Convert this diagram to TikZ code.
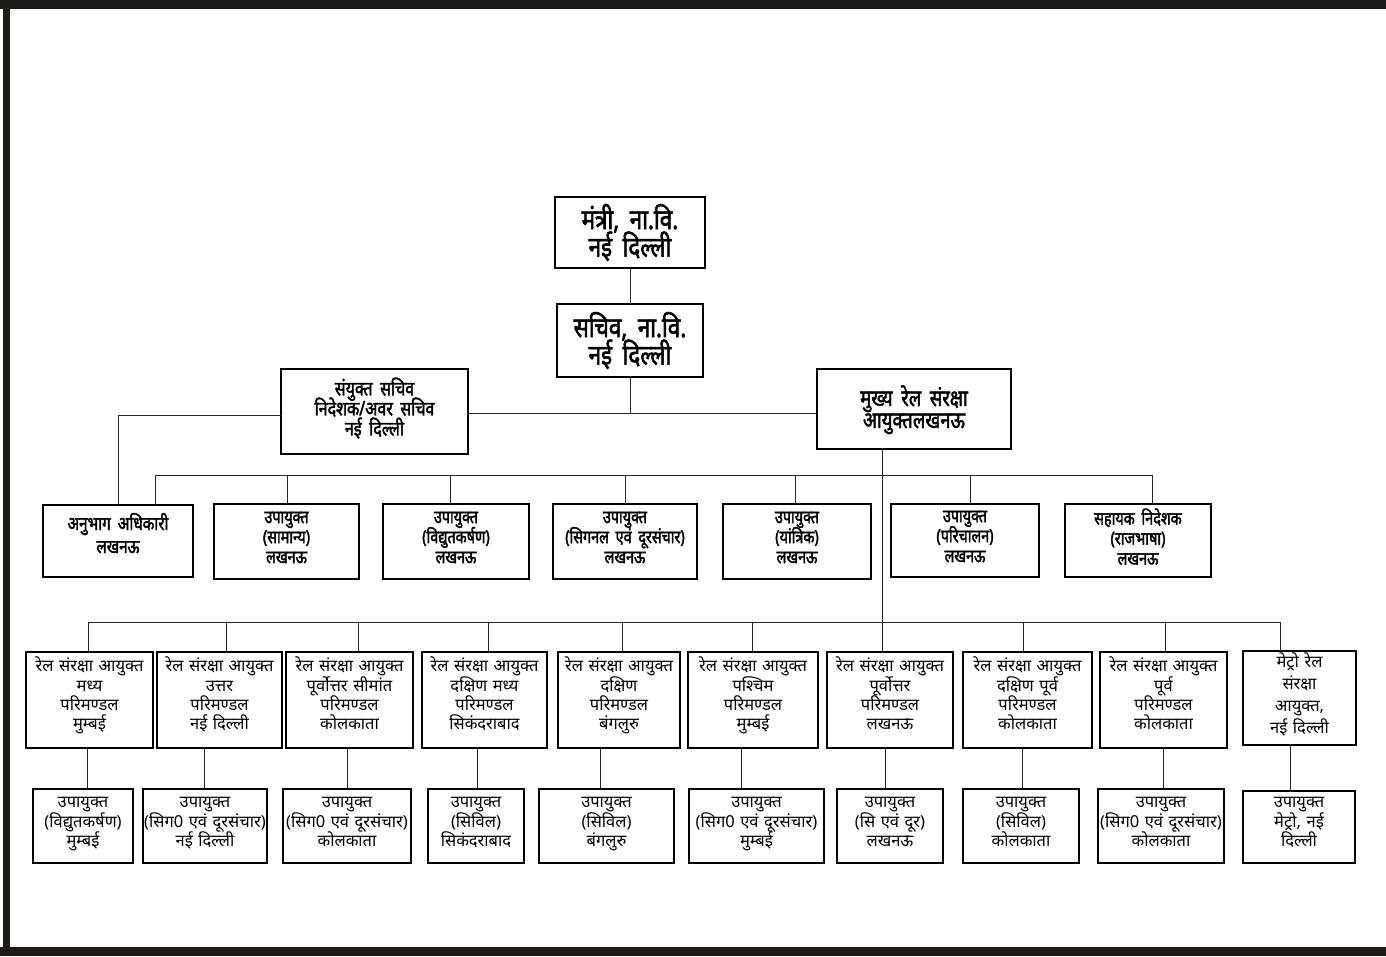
\documentclass[tikz,border=0pt]{standalone}
\usepackage{fontspec}
\newfontfamily\devR[Script=Devanagari,WordSpace=1.3]{Noto Sans}
\newfontfamily\devB[Script=Devanagari,FakeStretch=0.8,FakeBold=2,WordSpace=1.8]{Noto Sans}
\definecolor{ink}{HTML}{1E1A17}
\protected\def\nols{\lineskiplimit=-100pt\relax}
\protected\def\vtop#1{\rule{0pt}{#1pt}}
\protected\def\vbot#1{\rule[-#1pt]{0pt}{0pt}}
\newcommand\bx[7]{\node[#6,minimum width={#4-#2},minimum height={#5-#3}] (#1) at ({(#2+#4)/2},{(#3+#5)/2}) {#7};}
\begin{document}
\begin{tikzpicture}[x=1pt,y=-1pt,
  box/.style={draw=black,line width=1.1pt,inner sep=0pt,outer sep=0pt,align=center,fill=white},
  vstr/.style 2 args={execute at begin node={\vtop{#1}},execute at end node={\vbot{#2}}},
  topbox/.style={box,font=\devB\fontsize{28}{27.5}\selectfont\nols},
  midbox/.style={box,font=\devB\fontsize{18}{20}\selectfont\nols,vstr={21}{8}},
  lowbox/.style={box,font=\devR\fontsize{16.5}{19.3}\selectfont\nols},
  conn/.style={draw=black!85,line width=0.9pt}]
\useasboundingbox (0,0) rectangle (1386,956);
\fill[white] (0,0) rectangle (1386,956);
% frame
\fill[ink] (0,0) rectangle (1386,9);
\fill[ink] (3,0) rectangle (10,956);
\fill[ink] (0,947) rectangle (1386,956);
% top boxes
\bx{b1}{555}{197}{705}{268}{topbox}{मंत्री, ना.वि.\\नई दिल्ली}
\bx{b2}{557}{304}{703}{377}{topbox}{सचिव, ना.वि.\\नई दिल्ली}
\bx{b3}{281}{369}{468}{454}{midbox,font=\devB\fontsize{20}{20}\selectfont\nols,vstr={24}{10}}{संयुक्त सचिव\\निदेशक/अवर सचिव\\नई दिल्ली}
\bx{b4}{817}{369}{1011}{449}{midbox,font=\devB\fontsize{23}{22}\selectfont\nols,vstr={46}{6}}{मुख्य रेल संरक्षा\\आयुक्तलखनऊ}
% row 3
\bx{r3a}{43}{505}{193}{577}{midbox,font=\devB\fontsize{19}{23}\selectfont\nols,vstr={20}{16}}{अनुभाग अधिकारी\\लखनऊ}
\bx{r3b}{214}{504}{359}{579}{midbox}{उपायुक्त\\(सामान्य)\\लखनऊ}
\bx{r3c}{383}{504}{529}{579}{midbox}{उपायुक्त\\(विद्युतकर्षण)\\लखनऊ}
\bx{r3d}{553}{504}{697}{579}{midbox}{उपायुक्त\\(सिगनल एवं दूरसंचार)\\लखनऊ}
\bx{r3e}{723}{504}{871}{579}{midbox}{उपायुक्त\\(यांत्रिक)\\लखनऊ}
\bx{r3f}{891}{504}{1039}{577}{midbox}{उपायुक्त\\(परिचालन)\\लखनऊ}
\bx{r3g}{1065}{504}{1211}{577}{midbox}{सहायक निदेशक\\(राजभाषा)\\लखनऊ}
% row 4
\tikzset{r4/.style={lowbox,vstr={19}{13}}, r5/.style={lowbox,vstr={26}{8}}}
\bx{r4a}{26}{652}{153}{748}{r4}{रेल संरक्षा आयुक्त\\मध्य\\परिमण्डल\\मुम्बई}
\bx{r4b}{157}{652}{282}{748}{r4}{रेल संरक्षा आयुक्त\\उत्तर\\परिमण्डल\\नई दिल्ली}
\bx{r4c}{286}{652}{413}{748}{r4}{रेल संरक्षा आयुक्त\\पूर्वोत्तर सीमांत\\परिमण्डल\\कोलकाता}
\bx{r4d}{422}{652}{547}{748}{r4}{रेल संरक्षा आयुक्त\\दक्षिण मध्य\\परिमण्डल\\सिकंदराबाद}
\bx{r4e}{558}{652}{680}{748}{r4}{रेल संरक्षा आयुक्त\\दक्षिण\\परिमण्डल\\बंगलुरु}
\bx{r4f}{688}{652}{818}{748}{r4}{रेल संरक्षा आयुक्त\\पश्चिम\\परिमण्डल\\मुम्बई}
\bx{r4g}{827}{652}{953}{748}{r4}{रेल संरक्षा आयुक्त\\पूर्वोत्तर\\परिमण्डल\\लखनऊ}
\bx{r4h}{963}{652}{1092}{748}{r4}{रेल संरक्षा आयुक्त\\दक्षिण पूर्व\\परिमण्डल\\कोलकाता}
\bx{r4i}{1100}{652}{1227}{748}{r4}{रेल संरक्षा आयुक्त\\पूर्व\\परिमण्डल\\कोलकाता}
\bx{r4j}{1243}{651}{1356}{745}{lowbox,font=\devR\fontsize{16.5}{22}\selectfont\nols,vstr={18}{10}}{मेट्रो रेल\\संरक्षा\\आयुक्त,\\नई दिल्ली}
% row 5
\bx{r5a}{33}{789}{133}{863}{r5}{उपायुक्त\\(विद्युतकर्षण)\\मुम्बई}
\bx{r5b}{143}{789}{267}{863}{r5}{उपायुक्त\\(सिग0 एवं दूरसंचार)\\नई दिल्ली}
\bx{r5c}{283}{789}{411}{863}{r5}{उपायुक्त\\(सिग0 एवं दूरसंचार)\\कोलकाता}
\bx{r5d}{428}{789}{524}{863}{r5}{उपायुक्त\\(सिविल)\\सिकंदराबाद}
\bx{r5e}{539}{789}{674}{863}{r5}{उपायुक्त\\(सिविल)\\बंगलुरु}
\bx{r5f}{689}{789}{824}{863}{r5}{उपायुक्त\\(सिग0 एवं दूरसंचार)\\मुम्बई}
\bx{r5g}{837}{789}{943}{863}{r5}{उपायुक्त\\(सि एवं दूर)\\लखनऊ}
\bx{r5h}{963}{789}{1079}{863}{r5}{उपायुक्त\\(सिविल)\\कोलकाता}
\bx{r5i}{1098}{789}{1224}{863}{r5}{उपायुक्त\\(सिग0 एवं दूरसंचार)\\कोलकाता}
\bx{r5j}{1243}{791}{1355}{863}{lowbox,vstr={21}{10}}{उपायुक्त\\मेट्रो, नई\\दिल्ली}
% connectors
\coordinate (J) at (630,413);
\coordinate (L1) at (118,415);
\coordinate (B3a) at (155,475);
\coordinate (B3g) at (1152,475);
\coordinate (V) at (882,622);
\coordinate (B4L) at (88,622);
\coordinate (B4R) at (1280,622);
\draw[conn] (b1.south) -- (b2.north);
\draw[conn] (b2.south) -- (J);
\draw[conn] (b3.east |- J) -- (b4.west |- J);
\draw[conn] (b3.west |- L1) -| (r3a.north -| L1);
\draw[conn] (r3a.north -| B3a) |- (B3g) -- (r3g.north -| B3g);
\foreach \n/\x in {r3b/287,r3c/450,r3d/625,r3e/795,r3f/970}
  \draw[conn] (\n.north -| \x,0) -- (\x,475);
\draw[conn] (b4.south -| V) -- (V);
\draw[conn] (r4a.north -| B4L) |- (B4R) -- (r4j.north -| B4R);
\foreach \n/\x in {r4b/226,r4c/358,r4d/488,r4e/622,r4f/752,r4g/882,r4h/1023,r4i/1165}
  \draw[conn] (\n.north -| \x,0) -- (\x,622);
\foreach \a/\b/\x in {r4a/r5a/87,r4b/r5b/204,r4c/r5c/347,r4d/r5d/477,r4e/r5e/600,r4f/r5f/741,r4g/r5g/885,r4h/r5h/1022,r4i/r5i/1163,r4j/r5j/1290}
  \draw[conn] (\a.south -| \x,0) -- (\b.north -| \x,0);
\end{tikzpicture}
\end{document}
